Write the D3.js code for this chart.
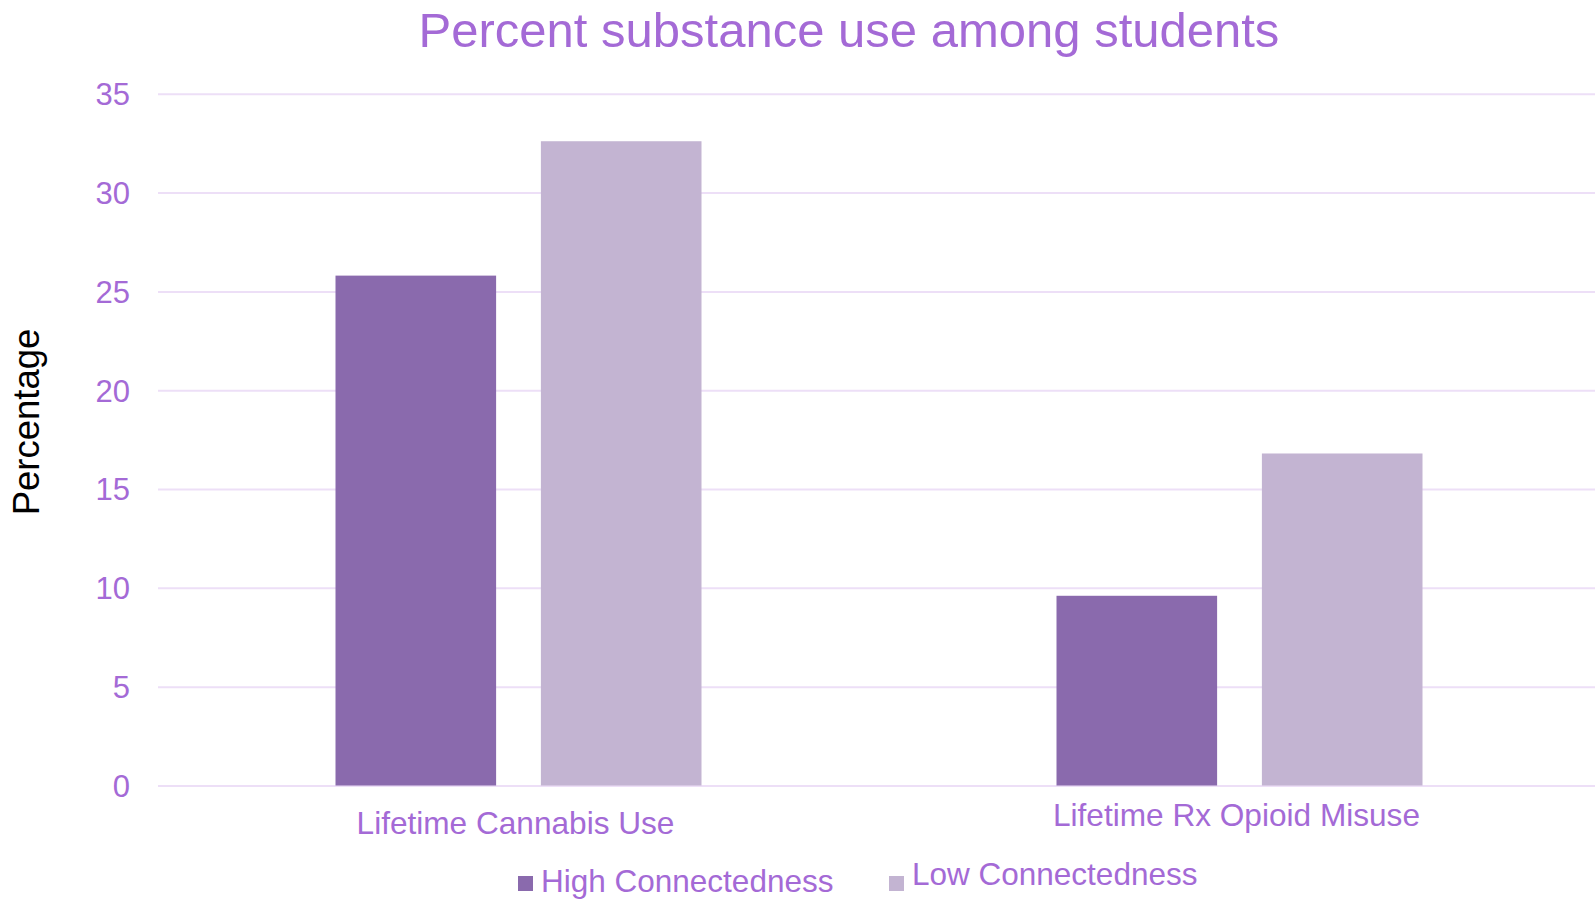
<!DOCTYPE html>
<html>
<head>
<meta charset="utf-8">
<script src="https://cdn.jsdelivr.net/npm/d3@7"></script>
<style>
  html, body { margin: 0; padding: 0; background: #ffffff; }
  svg { display: block; font-family: "Liberation Sans", Arial, sans-serif; }
</style>
</head>
<body>
<svg id="chart" width="1595" height="899"></svg>
<script>
// Chart content
const title = "Percent substance use among students";
const yAxisTitle = "Percentage";
const categories = ["Lifetime Cannabis Use", "Lifetime Rx Opioid Misuse"];
const seriesNames = ["High Connectedness", "Low Connectedness"];
const highConnectedness = [25.8, 9.6];
const lowConnectedness = [32.6, 16.8];
const yTicks = [0, 5, 10, 15, 20, 25, 30, 35];

// Styling
const seriesColors = ["#8a6aad", "#c3b4d2"];
const textPurple = "#a46ad6";
const gridColor = "#eddff7";

const svg = d3.select("#chart");
const W = 1595, H = 899;
const plot = { left: 158, right: 1600, top: 93.8, bottom: 785.5 };

const table = categories.map((c, i) => ({
  category: c,
  values: [highConnectedness[i], lowConnectedness[i]]
}));

const x = d3.scaleBand()
  .domain(categories)
  .range([plot.left, plot.right])
  .paddingInner(0).paddingOuter(0);

const groupWidth = 366;
const xInner = d3.scaleBand()
  .domain(seriesNames)
  .range([(x.bandwidth() - groupWidth) / 2, (x.bandwidth() + groupWidth) / 2])
  .paddingInner(0.218).paddingOuter(0);

const y = d3.scaleLinear().domain([0, 35]).range([plot.bottom, plot.top]);

// Title
svg.append("text")
  .attr("x", 849).attr("y", 47)
  .attr("text-anchor", "middle")
  .attr("font-size", 49)
  .attr("fill", textPurple)
  .text(title);

// Gridlines and y tick labels
const yAxis = d3.axisLeft(y).tickValues(yTicks).tickSize(0).tickPadding(0);
const yg = svg.append("g").attr("transform", `translate(${plot.left},0)`).call(yAxis);
yg.select(".domain").remove();
yg.selectAll(".tick line")
  .attr("x2", W - plot.left)
  .attr("stroke", gridColor)
  .attr("stroke-width", 2);
yg.selectAll(".tick text")
  .attr("x", 130 - plot.left)
  .attr("font-size", 31)
  .attr("font-family", "Liberation Sans, Arial, sans-serif")
  .attr("fill", textPurple)
  .attr("dy", "0.35em");

// Bars
const groups = svg.append("g").selectAll("g")
  .data(table).join("g")
  .attr("transform", d => `translate(${x(d.category)},0)`);

groups.selectAll("rect")
  .data(d => d.values.map((v, k) => ({ series: seriesNames[k], value: v, k })))
  .join("rect")
  .attr("x", d => xInner(d.series))
  .attr("width", xInner.bandwidth())
  .attr("y", d => y(d.value))
  .attr("height", d => y(0) - y(d.value))
  .attr("fill", d => seriesColors[d.k]);

// Category labels
const labelBaseline = [834, 826];
svg.append("g").selectAll("text")
  .data(categories).join("text")
  .attr("x", d => x(d) + x.bandwidth() / 2 - 3)
  .attr("y", (d, i) => labelBaseline[i])
  .attr("text-anchor", "middle")
  .attr("font-size", 31.6)
  .attr("fill", textPurple)
  .text(d => d);

// Y axis title
svg.append("text")
  .attr("transform", "translate(39,422) rotate(-90)")
  .attr("text-anchor", "middle")
  .attr("font-size", 36.5)
  .attr("fill", "#000000")
  .text(yAxisTitle);

// Legend
const legendItems = [
  { swatchX: 518, textX: 541, textY: 892 },
  { swatchX: 889, textX: 912, textY: 885 }
];
const legend = svg.append("g").selectAll("g")
  .data(seriesNames).join("g");
legend.append("rect")
  .attr("x", (d, i) => legendItems[i].swatchX)
  .attr("y", 876)
  .attr("width", 15).attr("height", 15)
  .attr("fill", (d, i) => seriesColors[i]);
legend.append("text")
  .attr("x", (d, i) => legendItems[i].textX)
  .attr("y", (d, i) => legendItems[i].textY)
  .attr("font-size", 31.5)
  .attr("fill", textPurple)
  .text(d => d);
</script>
</body>
</html>
